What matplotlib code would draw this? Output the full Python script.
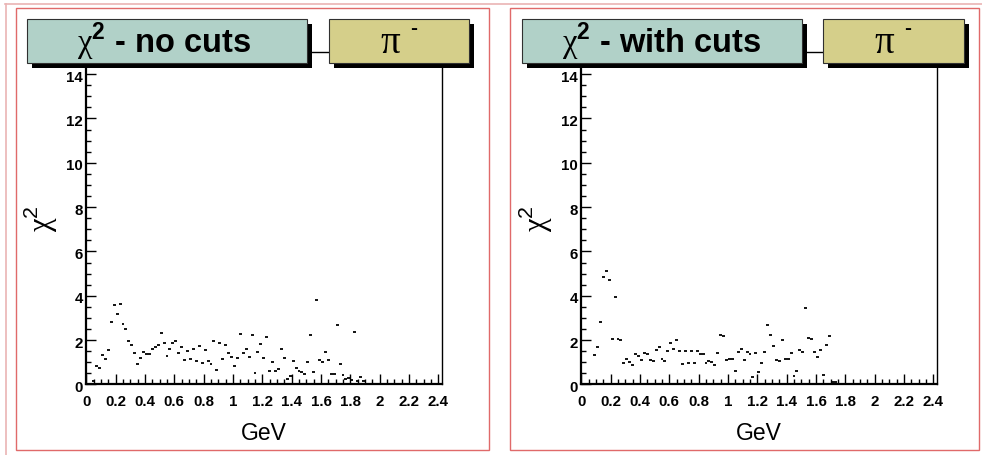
import numpy as np
import matplotlib
matplotlib.use("Agg")
import matplotlib.pyplot as plt
from matplotlib.patches import Rectangle
from matplotlib.ticker import MultipleLocator, FormatStrFormatter
import matplotlib.transforms as mtransforms

plt.rcParams['font.family'] = ['Liberation Sans', 'DejaVu Sans']
plt.rcParams['mathtext.fontset'] = 'custom'
plt.rcParams['mathtext.rm'] = 'Liberation Serif'
plt.rcParams['mathtext.sf'] = 'Liberation Sans'
plt.rcParams['mathtext.bf'] = 'Liberation Sans:bold'

# ---------------- data ----------------
bin_width = 0.02
left_first_center = 0.05
right_first_center = 0.09

chi2_nocuts = [
    0.17, 0.82, 0.75, 1.33, 1.15, 1.53, 2.81, 3.58, 3.17, 3.61,
    2.72, 2.50, 1.97, 1.76, 1.43, 0.94, 1.21, 1.46, 1.39, 1.39,
    1.59, 1.71, 1.80, 2.33, 1.88, 1.30, 1.62, 1.89, 1.94, 1.41,
    1.70, 1.12, 1.52, 1.15, 1.59, 1.06, 1.74, 0.96, 1.55, 1.06,
    0.90, 1.97, 0.67, 1.89, 1.15, 1.76, 1.41, 1.24, 0.84, 1.21,
    2.27, 1.43, 1.59, 1.24, 2.25, 0.53, 1.46, 1.82, 1.17, 2.15,
    0.60, 1.00, 0.62, 0.69, 1.62, 1.21, 0.24, 0.38, 1.06, 0.76,
    0.62, 0.55, 0.49, 0.99, 2.21, 0.57, 3.79, 1.11, 1.03, 1.44,
    1.09, 0.48, 0.49, 2.66, 0.93, 0.44, 0.23, 0.29, 0.20, 2.36,
    0.15, 0.33, 0.17,
]

chi2_withcuts = [
    1.34, 1.70, 2.83, 4.86, 5.13, 4.71, 2.05, 3.96, 2.06, 1.99,
    0.98, 1.15, 1.03, 0.88, 1.39, 1.28, 1.09, 1.42, 1.37, 1.10,
    1.06, 1.54, 1.70, 1.16, 1.07, 1.52, 1.87, 1.61, 2.00, 1.52,
    0.92, 1.52, 0.97, 1.52, 0.97, 1.52, 1.36, 1.36, 0.95, 1.07,
    1.00, 0.89, 1.43, 2.24, 2.20, 1.10, 1.15, 1.15, 0.62, 1.46,
    1.61, 1.12, 1.46, 1.39, 0.32, 1.43, 0.56, 0.95, 1.45, 2.70,
    2.24, 1.73, 1.12, 1.07, 2.00, 1.15, 1.15, 1.43, 0.38, 0.60,
    1.57, 1.45, 3.45, 2.09, 2.05, 1.46, 1.22, 1.54, 0.42, 1.79,
    2.18, 0.12, 0.12,
]

x_nocuts = left_first_center + bin_width * np.arange(len(chi2_nocuts))
x_withcuts = right_first_center + bin_width * np.arange(len(chi2_withcuts))

titles = [r'$\mathrm{\chi}^{\mathbf{2}}$ - no cuts', r'$\mathrm{\chi}^{\mathbf{2}}$ - with cuts']
particle = 'π'
particle_sup = '-'
xlabel = 'GeV'
ylabel = r'$\mathrm{\chi}^{\mathsf{2}}$'
xticks = [0, 0.2, 0.4, 0.6, 0.8, 1, 1.2, 1.4, 1.6, 1.8, 2, 2.2, 2.4]
yticks = [0, 2, 4, 6, 8, 10, 12, 14]

# ---------------- layout ----------------
W, H = 982, 455
fig = plt.figure(figsize=(W / 100, H / 100), dpi=100)
fig.patch.set_facecolor('white')

teal = '#b1d1c8'
khaki = '#d5cf8a'
pad_red = '#e06a6a'
canvas_pink = '#eab4b4'

panels = [
    dict(x0=86.3, x1=442.0, xs=x_nocuts, ys=chi2_nocuts, title=titles[0],
         tbox=(27.3, 307.0), pbox=(329.3, 469.0), pad=(16, 489), title_cx=164),
    dict(x0=581.3, x1=937.0, xs=x_withcuts, ys=chi2_withcuts, title=titles[1],
         tbox=(522.0, 801.7), pbox=(823.3, 963.7), pad=(510, 979), title_cx=662),
]
y0_px, y1_px = 384.4, 52.0

overlay = fig.add_axes([0, 0, 1, 1], zorder=10)
overlay.set_xlim(0, W)
overlay.set_ylim(H, 0)
overlay.axis('off')
overlay.patch.set_alpha(0)

# canvas border
overlay.plot([5, W], [3.5, 3.5], color=canvas_pink, lw=1.2)
overlay.plot([6, 6], [3.5, H], color=canvas_pink, lw=1.2)

for p in panels:
    ax = fig.add_axes([p['x0'] / W, (H - y0_px) / H,
                       (p['x1'] - p['x0']) / W, (y0_px - y1_px) / H])
    ax.set_xlim(0, 2.425)
    ax.set_ylim(0, 15)
    xs = np.asarray(p['xs'])
    ax.hlines(p['ys'], xs - bin_width / 2, xs + bin_width / 2, color='black', lw=1.3)
    ax.set_xticks(xticks)
    ax.set_yticks(yticks)
    ax.xaxis.set_major_formatter(FormatStrFormatter('%g'))
    ax.yaxis.set_major_formatter(FormatStrFormatter('%g'))
    ax.xaxis.set_minor_locator(MultipleLocator(0.05))
    ax.yaxis.set_minor_locator(MultipleLocator(0.5))
    ax.tick_params(which='both', direction='in', top=False, right=False, width=1, color='black')
    ax.tick_params(which='major', length=7.2)
    ax.tick_params(which='minor', length=3.6)
    ax.tick_params(axis='x', which='major', pad=7.3, labelsize=10.8)
    ax.tick_params(axis='y', which='major', pad=2.2, labelsize=10.8)
    for lab in ax.get_xticklabels() + ax.get_yticklabels():
        lab.set_fontweight('bold')
    off = mtransforms.ScaledTranslation(0, -2 / 100, fig.dpi_scale_trans)
    for lab in ax.get_yticklabels():
        lab.set_transform(lab.get_transform() + off)
    for s in ['left', 'bottom']:
        ax.spines[s].set_linewidth(1.6)
    for s in ['right', 'top']:
        ax.spines[s].set_linewidth(1.0)

    # pad border
    px0, px1 = p['pad']
    overlay.add_patch(Rectangle((px0, 8.3), px1 - px0, 450 - 8.3, fill=False,
                                edgecolor=pad_red, lw=1.0))

    # title box with shadow
    tx0, tx1 = p['tbox']
    overlay.add_patch(Rectangle((tx0 + 5, 19 + 5), tx1 - tx0, 44.3, facecolor='black',
                                edgecolor='none'))
    overlay.add_patch(Rectangle((tx0, 19), tx1 - tx0, 44.3, facecolor=teal,
                                edgecolor='#303030', lw=0.8))
    overlay.text(p['title_cx'], 53.5, p['title'], ha='center', va='baseline',
                 fontsize=23.5, fontweight='bold', color='black')

    bx0, bx1 = p['pbox']
    overlay.add_patch(Rectangle((bx0 + 5, 19 + 5), bx1 - bx0, 44.3, facecolor='black',
                                edgecolor='none'))
    overlay.add_patch(Rectangle((bx0, 19), bx1 - bx0, 44.3, facecolor=khaki,
                                edgecolor='#303030', lw=0.8))
    pcx = bx0 + 61
    overlay.text(pcx, 53.3, particle, ha='center', va='baseline', fontsize=28,
                 family='Liberation Serif', color='black')
    overlay.text(pcx + 23, 33.5, particle_sup, ha='center', va='baseline', fontsize=15,
                 fontweight='bold', color='black')

    # axis labels
    overlay.text((p['x0'] + p['x1']) / 2, 439.5, xlabel, ha='center', va='baseline',
                 fontsize=16.5, color='black')
    overlay.text(p['x0'] - 45, 219, ylabel, ha='center', va='center', rotation=90,
                 fontsize=22, color='black')

fig.savefig('out.png', dpi=100, facecolor='white')
